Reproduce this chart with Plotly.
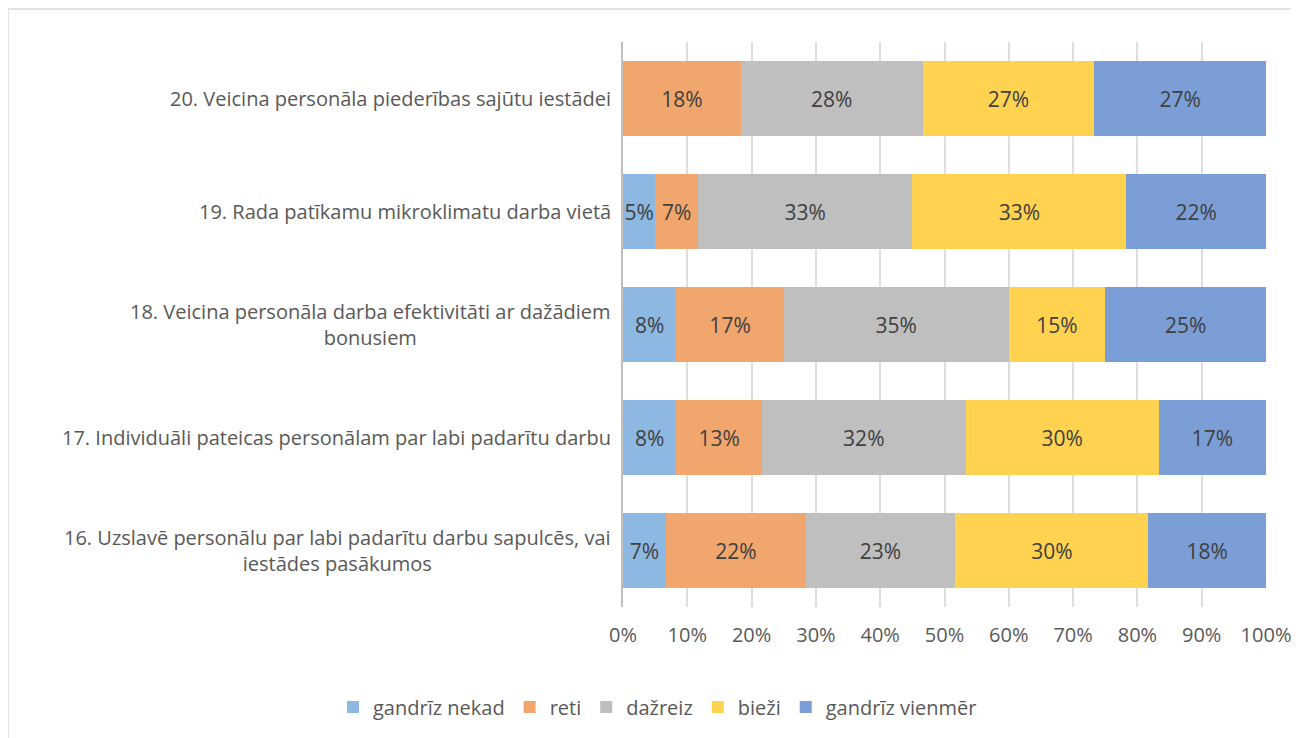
import plotly.graph_objects as go

categories = [
    "16. Uzslavē personālu par labi padarītu darbu sapulcēs, vai<br>iestādes pasākumos",
    "17. Individuāli pateicas personālam par labi padarītu darbu",
    "18. Veicina personāla darba efektivitāti ar dažādiem<br>bonusiem",
    "19. Rada patīkamu mikroklimatu darba vietā",
    "20. Veicina personāla piederības sajūtu iestādei",
]
series_names = ["gandrīz nekad", "reti", "dažreiz", "bieži", "gandrīz vienmēr"]
gandriz_nekad = [6.7, 8.3, 8.3, 5.0, 0.0]
reti = [21.7, 13.3, 16.7, 6.7, 18.3]
dazreiz = [23.3, 31.7, 35.0, 33.3, 28.3]
biezi = [30.0, 30.0, 15.0, 33.3, 26.7]
gandriz_vienmer = [18.3, 16.7, 25.0, 21.7, 26.7]
x_ticks = [0, 10, 20, 30, 40, 50, 60, 70, 80, 90, 100]
x_tick_labels = [f"{t}%" for t in x_ticks]

colors = ["#8DB8E2", "#F1A66E", "#BFBFBF", "#FFD34F", "#7B9ED6"]
values = [gandriz_nekad, reti, dazreiz, biezi, gandriz_vienmer]

FONT = "Open Sans"
FS = 20
fig = go.Figure()
keys = list(range(len(categories)))
for name, vals, col in zip(series_names, values, colors):
    texts = [f"{v:.0f}%" if v > 0 else "" for v in vals]
    fig.add_trace(go.Bar(
        y=keys, x=vals, name=name, orientation="h",
        marker=dict(color=col, line=dict(width=0)),
        text=texts, textposition="inside", insidetextanchor="middle",
        textangle=0, constraintext="none",
        textfont=dict(family=FONT, size=21, color="#404040"),
        hoverinfo="x+name",
    ))

for i, c in enumerate(categories):
    fig.add_annotation(
        x=0, xref="paper", y=keys[i], yref="y", text=c, showarrow=False,
        xanchor="right", yanchor="middle", align="center", xshift=-10,
        font=dict(family=FONT, size=FS, color="#595959"),
    )

# chart border (plot area spans 643 x 565 px)
fig.add_shape(type="rect", xref="paper", yref="paper",
              x0=-615 / 643, x1=1.2, y0=-0.4, y1=1 + 33 / 565,
              line=dict(color="#D9D9D9", width=1.5), fillcolor="rgba(0,0,0,0)", layer="below")

fig.update_layout(
    width=1299, height=738,
    margin=dict(l=615, r=41, t=34, b=139),
    barmode="stack", bargap=0.33,
    paper_bgcolor="white", plot_bgcolor="white",
    font=dict(family=FONT, size=FS, color="#595959"),
    legend=dict(orientation="h", xref="paper", yref="paper",
                x=-290 / 643, xanchor="left", y=-100 / 565, yanchor="middle",
                font=dict(family=FONT, size=20, color="#595959"),
                itemwidth=30, traceorder="normal"),
    xaxis=dict(range=[0, 100], tickvals=x_ticks, ticktext=x_tick_labels,
               showgrid=True, gridcolor="rgba(0,0,0,0.13)", gridwidth=1.5,
               layer="above traces",
               zeroline=False, showline=False, ticks="", ticklabelstandoff=14,
               tickfont=dict(family=FONT, size=FS, color="#595959")),
    yaxis=dict(range=[-0.5, 4.5], showticklabels=False, showgrid=False,
               showline=True, linecolor="#BFBFBF", linewidth=2, zeroline=False),
)

fig.write_html("out.html")
